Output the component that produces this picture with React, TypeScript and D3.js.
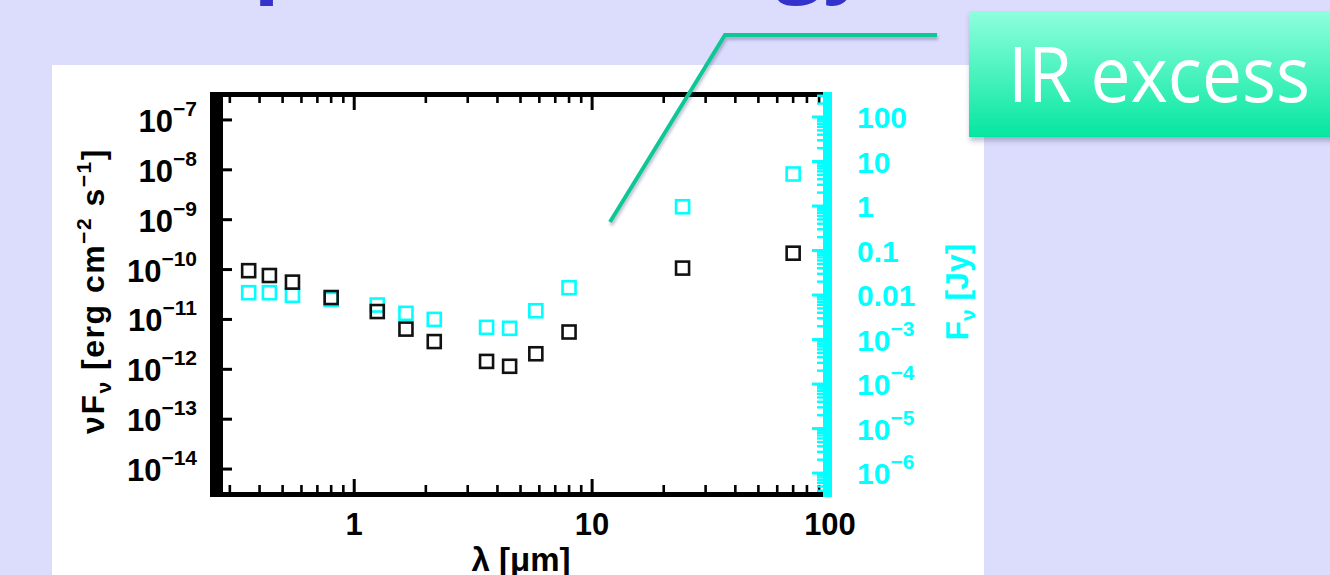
import React from "react";
import * as d3 from "d3";

// ---- data ----
const wavelengths = [0.36, 0.44, 0.55, 0.8, 1.25, 1.65, 2.17, 3.6, 4.5, 5.8, 8.0, 24, 70]; // micron
const nuFnu = [9.5e-11, 7.6e-11, 5.6e-11, 2.75e-11, 1.44e-11, 6.4e-12, 3.6e-12, 1.44e-12, 1.15e-12, 2.05e-12, 5.6e-12, 1.07e-10, 2.13e-10]; // erg cm^-2 s^-1
const fnuJy = [0.0113, 0.0113, 0.00985, 0.008, 0.00596, 0.00388, 0.00284, 0.00188, 0.00179, 0.00444, 0.0146, 0.964, 5.24]; // Jy

const xMajorTicks = [1, 10, 100];
const xTickLabels = ["1", "10", "100"];
const leftExponents = [-7, -8, -9, -10, -11, -12, -13, -14];
const rightPlainTicks = [100, 10, 1, 0.1, 0.01];
const rightPlainLabels = ["100", "10", "1", "0.1", "0.01"];
const rightExponents = [-3, -4, -5, -6];

const titleText = "(b) Spectral energy";
const calloutText = "IR excess";

const FONT = "'Liberation Sans', Arial, Helvetica, sans-serif";
const CYAN = "#00ffff";

export default function App() {
  const x = d3.scaleLog().domain([0.25, 100]).range([211, 830]);
  const yL = d3.scaleLog().domain([Math.pow(10, -14.5), Math.pow(10, -6.5)]).range([494, 95]);
  const yR = d3.scaleLog().domain([Math.pow(10, -6.47), Math.pow(10, 2.494)]).range([494, 95]);

  const xMinor: number[] = [];
  [0.1, 1, 10].forEach((d) => {
    for (let k = 2; k <= 9; k++) {
      const v = k * d;
      if (v >= 0.25 && v < 100) xMinor.push(v);
    }
  });
  const rMinor: number[] = [];
  for (let e = -7; e <= 2; e++) {
    for (let k = 2; k <= 9; k++) {
      const v = k * Math.pow(10, e);
      if (v > yR.domain()[0] && v < yR.domain()[1]) rMinor.push(v);
    }
  }
  const rMajor: number[] = [];
  for (let e = -6; e <= 2; e++) rMajor.push(Math.pow(10, e));

  const left = 210, right = 823, top = 92, bottom = 497;
  const sq = 13;

  return (
    <svg width={1330} height={575} style={{ position: "absolute", left: 0, top: 0, display: "block" }}>
      <defs>
        <linearGradient id="boxGrad" x1="0" y1="0" x2="0" y2="1">
          <stop offset="0" stopColor="#8fffdc" />
          <stop offset="1" stopColor="#05e6a0" />
        </linearGradient>
        <filter id="shadow" x="-20%" y="-40%" width="140%" height="180%">
          <feDropShadow dx="1" dy="4" stdDeviation="2.5" floodColor="#40407a" floodOpacity="0.35" />
        </filter>
        <filter id="lineShadow" x="-20%" y="-20%" width="140%" height="140%">
          <feDropShadow dx="1" dy="3" stdDeviation="1.5" floodColor="#40407a" floodOpacity="0.35" />
        </filter>
      </defs>
      {/* slide background */}
      <rect x={0} y={0} width={1330} height={575} fill="#dcdcfc" />
      {/* title (mostly cut off above the top edge) */}
      <text x={72} y={-16} fontFamily="'Open Sans', sans-serif" fontWeight={700} fontSize={92}
        fill="#3333cc" textLength={800} lengthAdjust="spacingAndGlyphs">{titleText}</text>
      {/* white figure panel */}
      <rect x={52} y={65} width={932} height={520} fill="#ffffff" />

      {/* cyan data (right axis) */}
      {wavelengths.map((w, i) => (
        <rect key={"c" + i} x={x(w) - sq / 2} y={yR(fnuJy[i]) - sq / 2} width={sq} height={sq}
          fill="none" stroke={CYAN} strokeWidth={2.6} />
      ))}
      {/* black data (left axis) */}
      {wavelengths.map((w, i) => (
        <rect key={"b" + i} x={x(w) - sq / 2} y={yL(nuFnu[i]) - sq / 2} width={sq} height={sq}
          fill="none" stroke="#111" strokeWidth={2.6} />
      ))}

      {/* frame: top and bottom axes */}
      <rect x={left} y={top} width={right - left} height={5} fill="#000" />
      <rect x={left} y={bottom - 5} width={right - left + 4} height={5} fill="#000" />
      {xMajorTicks.map((v) => (
        <g key={"xm" + v}>
          <rect x={x(v) - 1.5} y={bottom - 18} width={3} height={18} fill="#000" />
          <rect x={x(v) - 1.5} y={top} width={3} height={18} fill="#000" />
        </g>
      ))}
      {xMinor.map((v) => (
        <g key={"xn" + v}>
          <rect x={x(v) - 1.3} y={bottom - 12} width={2.6} height={12} fill="#000" />
          <rect x={x(v) - 1.3} y={top} width={2.6} height={11} fill="#000" />
        </g>
      ))}
      {/* left axis band */}
      <rect x={left} y={top} width={13} height={bottom - top} fill="#000" />
      {leftExponents.map((e) => (
        <rect key={"lt" + e} x={left + 13} y={yL(Math.pow(10, e)) - 1.5} width={9} height={3} fill="#000" />
      ))}
      {/* right cyan axis */}
      <rect x={right} y={top} width={9} height={bottom - top} fill={CYAN} />
      {rMajor.map((v, i) => (
        <rect key={"rm" + i} x={right - 11} y={yR(v) - 1.5} width={11} height={3} fill={CYAN} />
      ))}
      {rMinor.map((v, i) => (
        <rect key={"rn" + i} x={right - 6} y={yR(v) - 1.2} width={6} height={2.4} fill={CYAN} />
      ))}

      {/* x tick labels */}
      {xMajorTicks.map((v, i) => (
        <text key={"xl" + v} x={x(v)} y={535} textAnchor="middle" fontFamily={FONT} fontWeight={700}
          fontSize={31} fill="#000">{xTickLabels[i]}</text>
      ))}
      <text x={521} y={571} textAnchor="middle" fontFamily={FONT} fontWeight={700} fontSize={33} fill="#000">
        λ [μm]
      </text>

      {/* left tick labels */}
      {leftExponents.map((e) => (
        <text key={"ll" + e} x={197} y={yL(Math.pow(10, e)) + 12} textAnchor="end" fontFamily={FONT}
          fontWeight={700} fontSize={31} fill="#000">
          10<tspan fontSize={21} dy={-16}>{"\u2212" + Math.abs(e)}</tspan>
        </text>
      ))}
      {/* left axis title */}
      <text transform="translate(104,291) rotate(-90)" textAnchor="middle" fontFamily={FONT} fontWeight={700}
        fontSize={32} letterSpacing={1.5} fill="#000">
        νF<tspan fontSize={21} dy={7}>ν</tspan><tspan dy={-7}> [erg cm</tspan>
        <tspan fontSize={21} dy={-13}>−2</tspan><tspan dy={13}> s</tspan>
        <tspan fontSize={21} dy={-13}>−1</tspan><tspan dy={13}>]</tspan>
      </text>

      {/* right tick labels */}
      {rightPlainTicks.map((v, i) => (
        <text key={"rp" + i} x={857} y={yR(v) + 11} fontFamily={FONT} fontWeight={700} fontSize={30}
          fill={CYAN}>{rightPlainLabels[i]}</text>
      ))}
      {rightExponents.map((e) => (
        <text key={"re" + e} x={857} y={yR(Math.pow(10, e)) + 11} fontFamily={FONT} fontWeight={700}
          fontSize={30} fill={CYAN}>
          10<tspan fontSize={21} dy={-15}>{"\u2212" + Math.abs(e)}</tspan>
        </text>
      ))}
      <text transform="translate(968,292) rotate(-90)" textAnchor="middle" fontFamily={FONT} fontWeight={700}
        fontSize={32} fill={CYAN}>
        F<tspan fontSize={21} dy={7}>ν</tspan><tspan dy={-7}> [Jy]</tspan>
      </text>

      {/* callout */}
      <polyline points="610,222 725,35 937,35" fill="none" stroke="#0cc896" strokeWidth={4}
        filter="url(#lineShadow)" />
      <rect x={969} y={11} width={380} height={126} fill="url(#boxGrad)" filter="url(#shadow)" />
      <text x={1008} y={102} fontFamily="'Open Sans', sans-serif" fontWeight={400} fontSize={77} fill="#ffffff"
        textLength={302} lengthAdjust="spacingAndGlyphs">{calloutText}</text>
    </svg>
  );
}
